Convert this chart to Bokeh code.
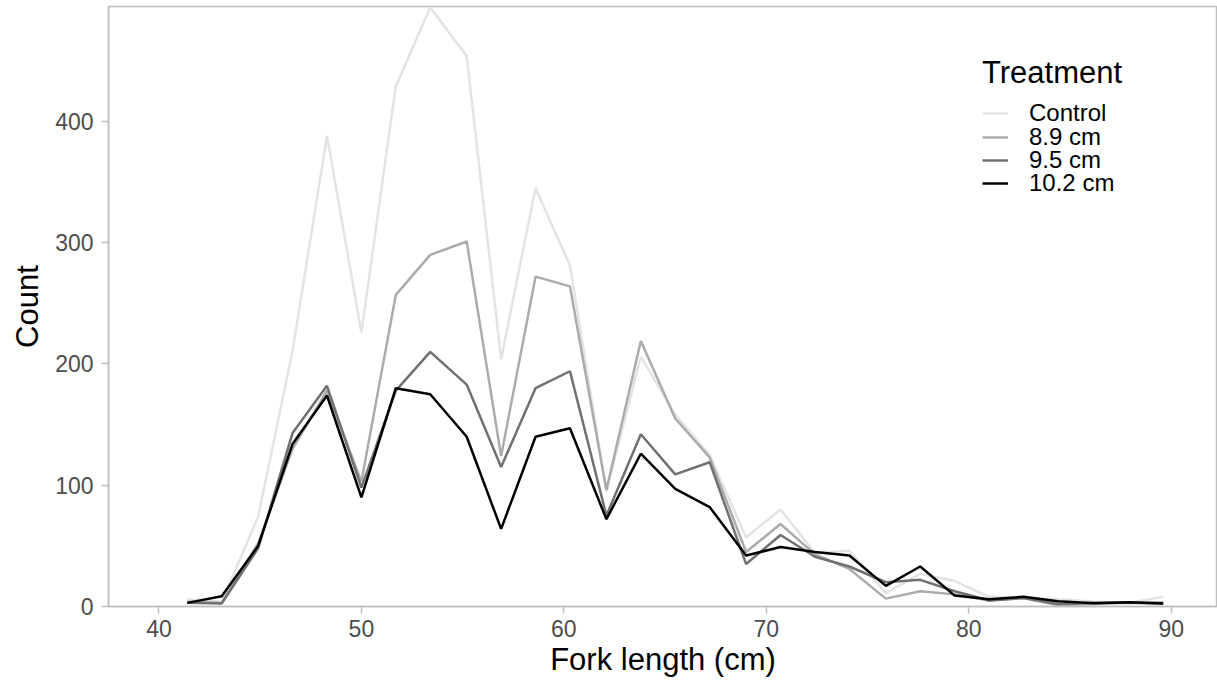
from bokeh.plotting import figure
from bokeh.models import Range1d, FixedTicker, Legend, LegendItem
from bokeh.embed import file_html
from bokeh.resources import INLINE

fork_length = [41.4, 43.1, 44.9, 46.6, 48.3, 50.0, 51.7, 53.4, 55.2, 56.9,
               58.6, 60.3, 62.1, 63.8, 65.5, 67.2, 69.0, 70.7, 72.4, 74.1,
               75.9, 77.6, 79.3, 81.0, 82.7, 84.4, 86.2, 87.9, 89.6]

control = [6, 4, 74, 211, 388, 226, 429, 494, 454, 204,
           345, 281, 95, 206, 158, 125, 57, 80, 44, 46,
           11, 27, 21, 8, 7, 6, 4, 3, 8]
cm_8_9 = [4, 3, 52, 130, 178, 103, 257, 290, 301, 124,
          272, 264, 96, 219, 155, 123, 45, 68, 43, 31,
          6.5, 12.6, 10, 5, 7, 1, 2, 3, 2]
cm_9_5 = [3, 2.5, 48, 143, 182, 98, 178, 210, 183, 115,
          180, 194, 75, 142, 109, 119, 35, 59, 41, 33,
          20, 22, 12.6, 5, 7, 2, 3, 3, 3]
cm_10_2 = [3, 8.5, 50, 134, 174, 90, 180, 175, 140, 64,
           140, 147, 72, 126, 97, 82, 42, 49, 45, 42,
           17, 33, 9, 6, 8, 4.4, 2.7, 3.6, 2.5]

series_names = ["Control", "8.9 cm", "9.5 cm", "10.2 cm"]
series_values = [control, cm_8_9, cm_9_5, cm_10_2]
series_colors = ["#E3E3E3", "#ABABAB", "#707070", "#000000"]

x_ticks = [40, 50, 60, 70, 80, 90]
y_ticks = [0, 100, 200, 300, 400]

FONT = "Liberation Sans"

p = figure(width=1217, height=686, output_backend="svg", toolbar_location=None,
           x_range=Range1d(37.51, 92.28), y_range=Range1d(0, 494.8),
           min_border_left=108, min_border_right=0, min_border_top=6,
           min_border_bottom=80)

p.outline_line_color = "#BEBEBE"
p.outline_line_width = 1.5
p.xgrid.visible = False
p.ygrid.visible = False
p.background_fill_color = "white"
p.border_fill_color = "white"

for ax in (p.xaxis[0], p.yaxis[0]):
    ax.axis_line_color = "#BEBEBE"
    ax.axis_line_width = 1.5
    ax.major_tick_line_color = "#BEBEBE"
    ax.major_tick_line_width = 1.5
    ax.major_tick_in = 0
    ax.major_tick_out = 7
    ax.minor_tick_line_color = None
    ax.major_label_text_font = FONT
    ax.major_label_text_font_size = "23px"
    ax.major_label_text_color = "#4D4D4D"
    ax.axis_label_text_font = FONT
    ax.axis_label_text_font_size = "31px"
    ax.axis_label_text_font_style = "normal"
    ax.axis_label_text_color = "#000000"

p.xaxis.ticker = FixedTicker(ticks=x_ticks)
p.yaxis.ticker = FixedTicker(ticks=y_ticks)
p.xaxis.axis_label = "Fork length (cm)"
p.yaxis.axis_label = "Count"
p.xaxis.major_label_standoff = 6
p.yaxis.major_label_standoff = 8
p.xaxis.axis_label_standoff = 2
p.yaxis.axis_label_standoff = 7

renderers = []
for name, vals, col in zip(series_names, series_values, series_colors):
    r = p.line(fork_length, vals, line_color=col, line_width=2.5)
    renderers.append(r)

# one legend row per block so the rows can sit as tightly as in the reference
row_bottoms = [479, 455, 432, 409]
common = dict(label_text_font=FONT, label_text_font_size="24px",
              label_text_color="#000000", label_standoff=21,
              label_height=18, glyph_width=26, glyph_height=18,
              spacing=0, padding=0, margin=0,
              border_line_color=None, background_fill_alpha=0)
for i, (name, r, yb) in enumerate(zip(series_names, renderers, row_bottoms)):
    kw = dict(common)
    if i == 0:
        kw.update(title="Treatment", title_text_font=FONT,
                  title_text_font_size="31px", title_text_font_style="normal",
                  title_text_color="#000000", title_standoff=8)
    lg = Legend(items=[LegendItem(label=name, renderers=[r])],
                location=(874, yb), **kw)
    p.add_layout(lg)

open("out.html", "w").write(file_html(p, INLINE))
